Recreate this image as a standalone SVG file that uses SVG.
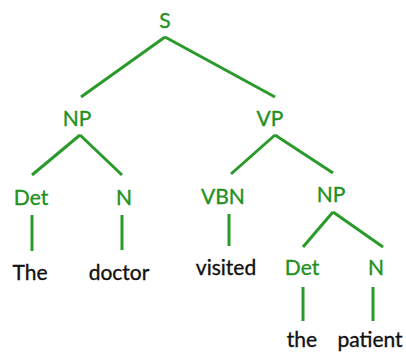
<svg xmlns="http://www.w3.org/2000/svg" width="406" height="354" viewBox="0 0 406 354">
  <style>
    text { font-family: "Lato", "Open Sans", sans-serif; font-size: 21px; text-anchor: middle; stroke-width: 0.35; }
    .cat { fill: #23901f; stroke: #23901f; }
    .word { fill: #111111; stroke: #111111; }
    .edges line { stroke: #2a9a2a; stroke-width: 3; stroke-linecap: butt; }
  </style>
  <rect width="406" height="354" fill="#ffffff"/>

  <!-- branches of the parse tree -->
  <g id="edges" class="edges">
    <line x1="165" y1="37" x2="81" y2="97"/>
    <line x1="165" y1="37" x2="275" y2="97"/>
    <line x1="80" y1="135" x2="32" y2="175"/>
    <line x1="80" y1="135" x2="122" y2="175"/>
    <line x1="275" y1="135" x2="231" y2="174"/>
    <line x1="275" y1="135" x2="333" y2="173"/>
    <line x1="32" y1="215" x2="32" y2="251"/>
    <line x1="122" y1="215" x2="122" y2="250"/>
    <line x1="229" y1="214" x2="229" y2="246"/>
    <line x1="333" y1="212" x2="303" y2="247"/>
    <line x1="333" y1="212" x2="383" y2="247"/>
    <line x1="303" y1="287" x2="303" y2="321"/>
    <line x1="373" y1="287" x2="373" y2="321"/>
  </g>

  <!-- phrase and part-of-speech nodes -->
  <g id="node-S"><text class="cat" x="165" y="28">S</text></g>
  <g id="node-NP1"><text class="cat" x="77" y="126">NP</text></g>
  <g id="node-VP"><text class="cat" x="270" y="126">VP</text></g>
  <g id="node-Det1"><text class="cat" x="31" y="205">Det</text></g>
  <g id="node-N1"><text class="cat" x="124" y="205">N</text></g>
  <g id="node-VBN"><text class="cat" x="223" y="204">VBN</text></g>
  <g id="node-NP2"><text class="cat" x="331" y="202">NP</text></g>
  <g id="node-Det2"><text class="cat" x="302" y="275">Det</text></g>
  <g id="node-N2"><text class="cat" x="376" y="275">N</text></g>

  <!-- leaf words -->
  <g id="word-The"><text class="word" x="30" y="280">The</text></g>
  <g id="word-doctor"><text class="word" x="119" y="280">doctor</text></g>
  <g id="word-visited"><text class="word" x="226" y="275">visited</text></g>
  <g id="word-the"><text class="word" x="302" y="347">the</text></g>
  <g id="word-patient"><text class="word" x="370" y="347">patient</text></g>
</svg>
